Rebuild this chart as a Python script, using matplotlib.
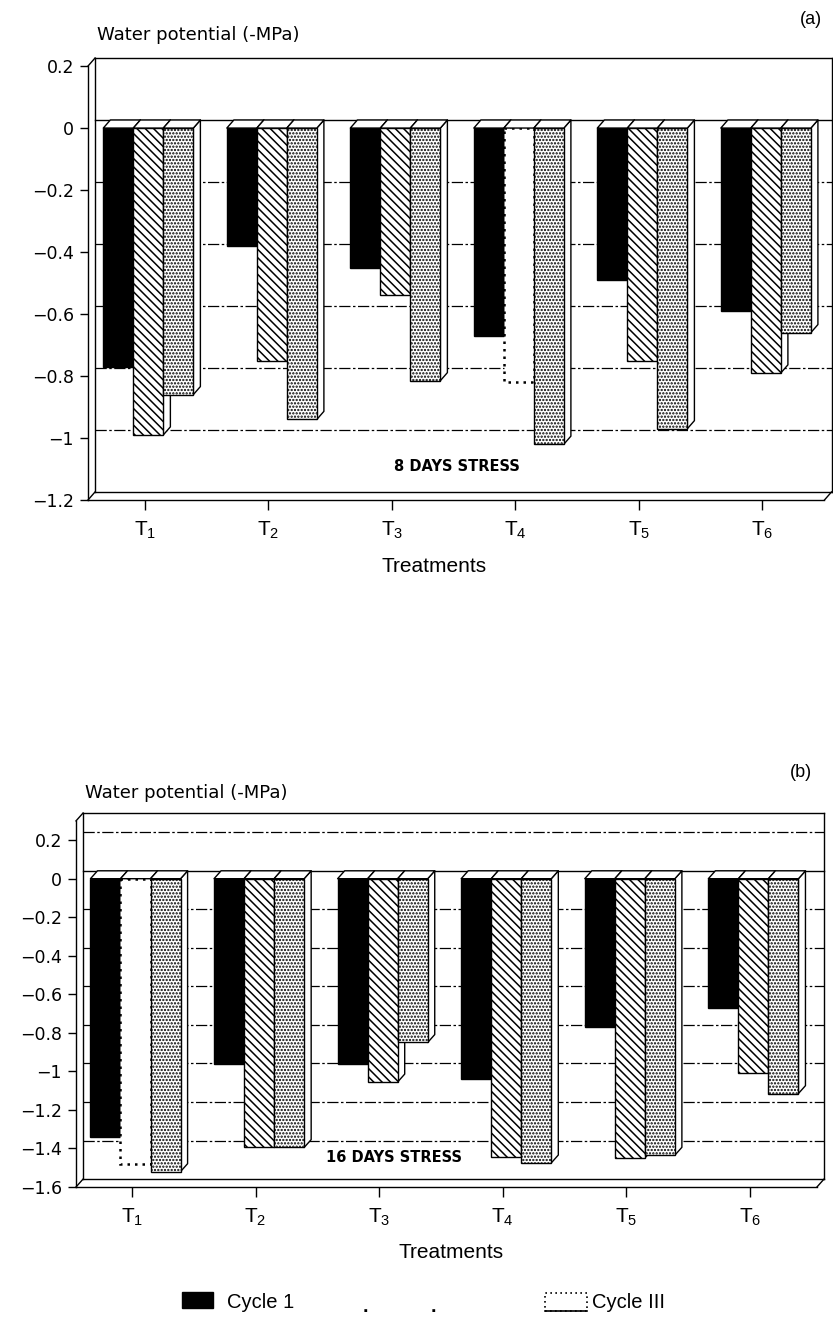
import matplotlib
matplotlib.use("Agg")
import matplotlib.pyplot as plt
from matplotlib.collections import PolyCollection
from matplotlib.patches import Rectangle

plt.rcParams['font.family'] = ['Liberation Sans', 'DejaVu Sans']
plt.rcParams['mathtext.fontset'] = 'custom'
plt.rcParams['mathtext.rm'] = 'Liberation Sans'
plt.rcParams['mathtext.it'] = 'Liberation Sans:italic'
plt.rcParams['mathtext.bf'] = 'Liberation Sans:bold'
plt.rcParams['hatch.linewidth'] = 1.1

treatments = ['1', '2', '3', '4', '5', '6']
cycle_names = ['Cycle 1', 'Cycle II', 'Cycle III']

# (a) 8 days stress, water potential (-MPa)
a_cycle1 = [-0.77, -0.38, -0.45, -0.67, -0.49, -0.59]
a_cycle2 = [-0.99, -0.75, -0.54, -0.82, -0.75, -0.79]
a_cycle3 = [-0.86, -0.94, -0.815, -1.02, -0.97, -0.66]
a_yticks = [0.2, 0, -0.2, -0.4, -0.6, -0.8, -1, -1.2]

# (b) 16 days stress
b_cycle1 = [-1.34, -0.96, -0.96, -1.04, -0.77, -0.67]
b_cycle2 = [-1.48, -1.395, -1.055, -1.445, -1.45, -1.01]
b_cycle3 = [-1.52, -1.395, -0.85, -1.475, -1.435, -1.115]
b_yticks = [0.2, 0, -0.2, -0.4, -0.6, -0.8, -1, -1.2, -1.4, -1.6]

W, H = 833, 1321
fig = plt.figure(figsize=(W / 100, H / 100), dpi=100)


def px_axes(left, top, right, bottom):
    return fig.add_axes([left / W, 1 - bottom / H, (right - left) / W, (bottom - top) / H])


def fig_text(x, y, s, **kw):
    fig.text(x / W, 1 - y / H, s, **kw)


bar_styles = [dict(facecolor='black', edgecolor='black'),
              dict(facecolor='white', edgecolor='black', hatch='\\\\\\\\'),
              dict(facecolor='white', edgecolor='black', hatch='.....')]
grid_dash = (0, (9, 2, 2, 2))
DX = 0.057   # depth offset in category units
BW = 0.243   # bar width


def panel(ax, series, yticks, top_front, xlim, dy, faded, stress, stress_xy):
    ybot = min(yticks)
    ax.set_xlim(*xlim)
    ax.set_ylim(ybot, top_front + dy)
    xl, xr = xlim[0], xlim[1] - DX
    for s in ax.spines.values():
        s.set_visible(False)

    line = dict(color='black', lw=1.0, clip_on=False, zorder=1)
    # open box: left wall, back top, right edge, floor, zero plane
    ax.plot([xl, xl], [ybot, top_front], **line)
    ax.plot([xl, xl + DX], [top_front, top_front + dy], **line)
    ax.plot([xl + DX, xl + DX], [ybot + dy, top_front + dy], **line)
    ax.plot([xl + DX, xr + DX], [top_front + dy] * 2, **line)
    ax.plot([xr + DX, xr + DX], [ybot + dy, top_front + dy], **line)
    ax.plot([xl, xr], [ybot, ybot], **line)
    ax.plot([xl + DX, xr + DX], [ybot + dy] * 2, **line)
    ax.plot([xl, xl + DX], [ybot, ybot + dy], **line)
    ax.plot([xr, xr + DX], [ybot, ybot + dy], **line)
    ax.plot([xl + DX, xr + DX], [dy, dy], **line)
    for t in yticks:
        if t != 0 and t != ybot and t < top_front - 1e-9:
            ax.plot([xl + DX, xr + DX], [t + dy] * 2, color='black', lw=0.9,
                    linestyle=grid_dash, zorder=1)

    sides, tops = [], []
    for j, vals in enumerate(series):
        xs = [i + DX / 2 + (j - 1) * BW for i in range(len(vals))]
        bars = ax.bar(xs, vals, width=BW, lw=1.0, zorder=3, **bar_styles[j])
        for rect, v in zip(bars, vals):
            x0 = rect.get_x()
            x1 = x0 + BW
            sides.append([(x1, 0), (x1 + DX, dy), (x1 + DX, v + dy), (x1, v)])
            tops.append([(x0, 0), (x1, 0), (x1 + DX, dy), (x0 + DX, dy)])
        for (ti, tj) in faded:
            if tj == j:
                p = bars[ti]
                p.set_hatch(None)
                p.set_facecolor('white')
                p.set_linestyle((0, (1, 2)))
                p.set_linewidth(1.8)
    ax.add_collection(PolyCollection(sides, facecolors='white', edgecolors='black',
                                     linewidths=1.0, zorder=2))
    ax.add_collection(PolyCollection(tops, facecolors='white', edgecolors='black',
                                     linewidths=1.0, zorder=3.5))

    ax.set_yticks(yticks)
    ax.set_yticklabels([f"{t:g}".replace('-', '\u2212') for t in yticks],
                       fontfamily='DejaVu Sans', fontsize=12.5)
    ax.set_xticks(range(len(treatments)))
    ax.set_xticklabels([rf'$\mathrm{{T}}_{{\mathrm{{{t}}}}}$' for t in treatments],
                       fontsize=15)
    ax.tick_params(axis='y', direction='out', length=6, width=1, pad=4)
    ax.tick_params(axis='x', direction='out', length=7, width=1, pad=7)
    ax.text(stress_xy[0], stress_xy[1], stress, ha='center', va='center',
            fontfamily='DejaVu Sans', fontweight='bold', fontsize=10.5, zorder=4)


ax_a = px_axes(88, 58, 831.5, 500)
panel(ax_a, [a_cycle1, a_cycle2, a_cycle3], a_yticks, 0.2, (-0.46, 5.56), 0.026,
      [(3, 1)], '8 DAYS STRESS', (2.53, -1.093))

ax_b = px_axes(76, 813, 824, 1187)
panel(ax_b, [b_cycle1, b_cycle2, b_cycle3], b_yticks, 0.3, (-0.453, 5.6), 0.041,
      [(0, 1)], '16 DAYS STRESS', (2.12, -1.449))

# axis titles and panel letters
fig_text(97, 40, 'Water potential (-MPa)', fontfamily='DejaVu Sans', fontsize=13,
         ha='left', va='baseline')
fig_text(85, 798, 'Water potential (-MPa)', fontfamily='DejaVu Sans', fontsize=13,
         ha='left', va='baseline')
fig_text(822, 24, '(a)', fontsize=13, ha='right', va='baseline')
fig_text(812, 777, '(b)', fontsize=13, ha='right', va='baseline')
fig_text(434, 572, 'Treatments', fontsize=15, ha='center', va='baseline')
fig_text(451, 1258, 'Treatments', fontsize=15, ha='center', va='baseline')

# legend (Cycle II entry is faded to two specks in the original)
fig.add_artist(Rectangle((182 / W, 1 - 1308 / H), 31 / W, 16 / H,
                         transform=fig.transFigure, facecolor='black', edgecolor='black'))
fig_text(227, 1308, cycle_names[0], fontsize=14.5, ha='left', va='baseline')
fig_text(365, 1312, '.', fontsize=14, fontweight='bold', ha='center', va='baseline')
fig_text(433, 1312, '.', fontsize=14, fontweight='bold', ha='center', va='baseline')
fig.add_artist(Rectangle((545 / W, 1 - 1311 / H), 42 / W, 18 / H,
                         transform=fig.transFigure, facecolor='white', edgecolor='black',
                         linestyle=(0, (1, 2)), lw=1.2))
fig.add_artist(plt.Line2D([545 / W, 587 / W], [1 - 1311 / H] * 2,
                          transform=fig.transFigure, color='black', lw=1.2))
fig_text(592, 1308, cycle_names[2], fontsize=14.5, ha='left', va='baseline')

fig.savefig('out.png', dpi=100)
